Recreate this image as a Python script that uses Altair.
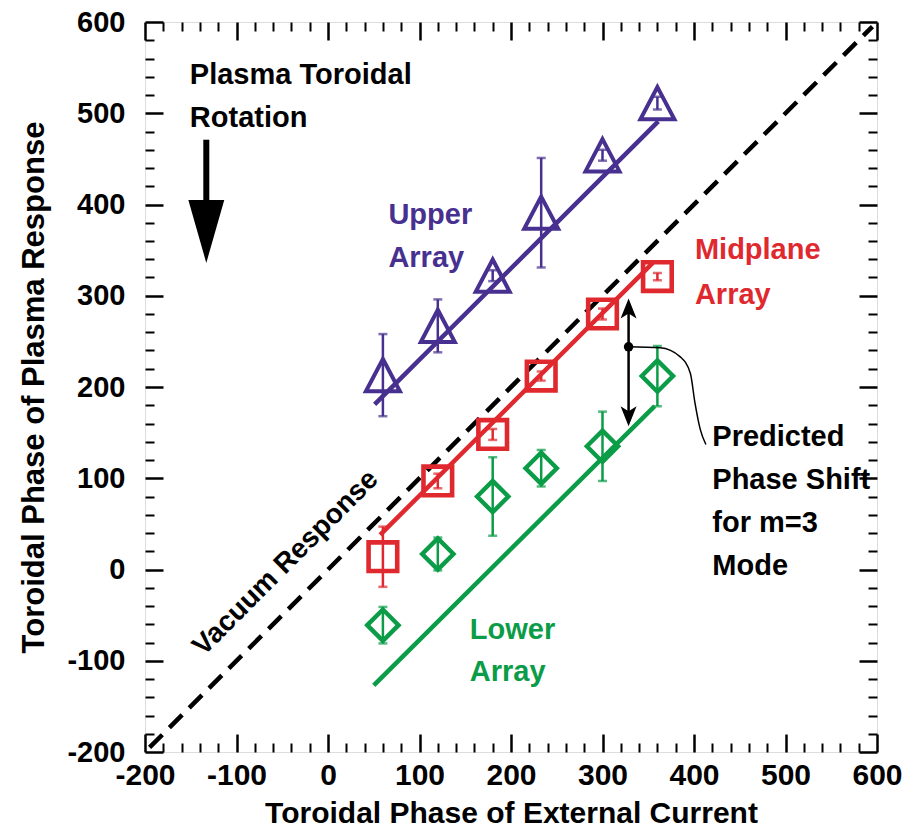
import altair as alt
import pandas as pd

# Toroidal phase of the applied external current (deg)
ext_phase = [60, 120, 180, 233, 300, 360]

# Measured plasma response phase and error half-widths for each sensor array (deg)
upper_phase = [213, 267, 322, 391, 454, 511]
upper_err = [45, 29, 6, 60, 6, 7]
mid_phase = [14, 97, 148, 212, 280, 321]
mid_err = [33, 8, 6, 5, 6, 4]
lower_phase = [-61, 17, 80, 111, 135, 212]
lower_err = [20, 18, 43, 20, 38, 33]

# Straight-line fits: end points (x, y) of each line
fit_names = ["Upper", "Midplane", "Lower"]
fit_x0 = [51, 57, 50]
fit_x1 = [361, 355, 357]
fit_y0 = [181, 38, -127]
fit_y1 = [491, 336, 179]

# Vacuum response (plasma phase equals coil phase)
vacuum_x = [-195, 595]
vacuum_y = [-195, 595]

# Text annotations
note_text = ["Plasma Toroidal", "Rotation", "Upper", "Array", "Midplane", "Array",
             "Lower", "Array", "Predicted", "Phase Shift", "for m=3", "Mode"]
note_x = [-151, -151, 66, 66, 401, 401, 155, 155, 420, 420, 420, 420]
note_y = [542, 495, 388, 341, 350, 301, -66, -112, 145, 98, 51, 4]
note_group = ["Note", "Note", "Upper", "Upper", "Midplane", "Midplane",
              "Lower", "Lower", "Note", "Note", "Note", "Note"]
vac_label = "Vacuum Response"
vac_label_x = -46
vac_label_y = 7

# Rotation-direction arrow
rot_x = -133
rot_shaft_y = [471, 380]
rot_tip_y = 336

# Predicted m=3 shift: double arrow, dot and leader curve
shift_x = 328.5
shift_top = 297
shift_bottom = 157
shift_dot_y = 244
leader_x = [328, 363, 385, 396, 401, 407, 413]
leader_y = [244, 243, 233, 215, 183, 153, 137]

FONT = "Liberation Sans"
groups = ["Upper", "Midplane", "Lower", "Note"]
palette = ["#47308f", "#e0292f", "#0b9c48", "#000000"]
color = alt.Color("group:N", scale=alt.Scale(domain=groups, range=palette), legend=None)

XS = alt.Scale(domain=[-200, 600], nice=False, zero=False)
YS = alt.Scale(domain=[-200, 600], nice=False, zero=False)
major = list(range(-200, 601, 100))
minor = [v for v in range(-200, 601, 20) if v % 100]

pts = pd.DataFrame({
    "x": ext_phase * 3,
    "y": upper_phase + mid_phase + lower_phase,
    "err": upper_err + mid_err + lower_err,
    "group": ["Upper"] * 6 + ["Midplane"] * 6 + ["Lower"] * 6,
})
pts["lo"] = pts["y"] - pts["err"]
pts["hi"] = pts["y"] + pts["err"]

fits = pd.DataFrame({
    "x": fit_x0 + fit_x1,
    "y": fit_y0 + fit_y1,
    "group": fit_names * 2,
})
vac = pd.DataFrame({"x": vacuum_x, "y": vacuum_y})
notes = pd.DataFrame({"x": note_x, "y": note_y, "text": note_text, "group": note_group})


def xq(axis=None, field="x"):
    return alt.X(f"{field}:Q", scale=XS, axis=axis)


def yq(axis=None, field="y"):
    return alt.Y(f"{field}:Q", scale=YS, axis=axis)


# ---- axes: labelled axes plus inward major / minor ticks on all four sides
def tick_axis(orient, values, size, width):
    return alt.Axis(orient=orient, values=values, tickSize=size, offset=-size,
                    labels=False, domain=False, grid=False, title=None,
                    tickColor="black", tickWidth=width)


# plain hyphen for negative numbers
plain_label = "'' + datum.value"

x_lab = alt.Axis(orient="bottom", values=major, ticks=False, domain=False, grid=False,
                 labelFont=FONT, labelFontSize=30, labelFontWeight="bold",
                 labelColor="black", labelPadding=8, labelExpr=plain_label,
                 labelOverlap=False, labelFlush=False,
                 title="Toroidal Phase of External Current", titleFont=FONT,
                 titleFontSize=30, titleFontWeight="bold", titleColor="black",
                 titlePadding=8)
y_lab = alt.Axis(orient="left", values=major, ticks=False, domain=False, grid=False,
                 labelFont=FONT, labelFontSize=29, labelFontWeight="bold",
                 labelColor="black", labelPadding=20, labelExpr=plain_label,
                 labelOverlap=False, labelFlush=False,
                 title="Toroidal Phase of Plasma Response", titleFont=FONT,
                 titleFontSize=31, titleFontWeight="bold", titleColor="black",
                 titlePadding=16)

axis_pairs = [
    (x_lab, y_lab),
    (tick_axis("bottom", major, 18, 2.5), tick_axis("left", major, 18, 2.5)),
    (tick_axis("bottom", minor, 9, 2), tick_axis("left", minor, 9, 2)),
    (tick_axis("top", major, 18, 2.5), tick_axis("right", major, 18, 2.5)),
    (tick_axis("top", minor, 9, 2), tick_axis("right", minor, 9, 2)),
]
axis_layers = [
    alt.Chart(vac).mark_point(opacity=0).encode(x=xq(ax), y=yq(ay))
    for ax, ay in axis_pairs
]

# ---- data layers
vacuum = alt.Chart(vac).mark_line(color="black", strokeWidth=4.5, strokeDash=[18, 10]).encode(
    x=xq(), y=yq())

fit_lines = alt.Chart(fits).mark_line(strokeWidth=4.5).encode(
    x=xq(), y=yq(), color=color, detail="group:N")

err_rules = alt.Chart(pts).mark_rule(strokeWidth=2.5).encode(
    x=xq(), y=yq(field="lo"), y2="hi:Q", color=color)
err_lo = alt.Chart(pts).mark_tick(orient="horizontal", size=9, thickness=2.5).encode(
    x=xq(), y=yq(field="lo"), color=color)
err_hi = alt.Chart(pts).mark_tick(orient="horizontal", size=9, thickness=2.5).encode(
    x=xq(), y=yq(field="hi"), color=color)

upper_pts = alt.Chart(pts[pts.group == "Upper"]).mark_point(
    shape="M0,-0.95L1,0.95L-1,0.95Z", filled=False, size=1156, strokeWidth=4, opacity=1
).encode(x=xq(), y=yq(), color=color)
mid_pts = alt.Chart(pts[pts.group == "Midplane"]).mark_point(
    shape="square", filled=False, size=820, strokeWidth=4.6, opacity=1
).encode(x=xq(), y=yq(), color=color)
low_pts = alt.Chart(pts[pts.group == "Lower"]).mark_point(
    shape="diamond", filled=False, size=980, strokeWidth=4.4, opacity=1
).encode(x=xq(), y=yq(), color=color)

note_marks = alt.Chart(notes).mark_text(
    align="left", baseline="middle", font=FONT, fontSize=29, fontWeight="bold"
).encode(x=xq(), y=yq(), text="text:N", color=color)

vac_text = alt.Chart(pd.DataFrame({"x": [vac_label_x], "y": [vac_label_y], "text": [vac_label]})).mark_text(
    align="center", baseline="middle", angle=315, font=FONT, fontSize=28,
    fontWeight="bold", color="black"
).encode(x=xq(), y=yq(), text="text:N")

rot = pd.DataFrame({"x": [rot_x, rot_x], "y": rot_shaft_y})
rot_shaft = alt.Chart(rot).mark_line(color="black", strokeWidth=6, strokeCap="butt").encode(
    x=xq(), y=yq())
rot_head = alt.Chart(pd.DataFrame({"x": [rot_x], "y": [rot_tip_y]})).mark_point(
    shape="M0,0L0.57,-2L-0.57,-2Z", size=3969, filled=True, color="black", opacity=1,
    strokeWidth=0
).encode(x=xq(), y=yq())

shift = pd.DataFrame({"x": [shift_x, shift_x], "y": [shift_top - 10, shift_bottom + 10]})
shift_shaft = alt.Chart(shift).mark_line(color="black", strokeWidth=2.5).encode(x=xq(), y=yq())
shift_up = alt.Chart(pd.DataFrame({"x": [shift_x], "y": [shift_top]})).mark_point(
    shape="M0,0L0.4,1L0,0.75L-0.4,1Z", size=1600, filled=True, color="black", opacity=1,
    strokeWidth=0
).encode(x=xq(), y=yq())
shift_down = alt.Chart(pd.DataFrame({"x": [shift_x], "y": [shift_bottom]})).mark_point(
    shape="M0,0L0.4,-1L0,-0.75L-0.4,-1Z", size=1600, filled=True, color="black", opacity=1,
    strokeWidth=0
).encode(x=xq(), y=yq())
shift_dot = alt.Chart(pd.DataFrame({"x": [shift_x], "y": [shift_dot_y]})).mark_point(
    shape="circle", size=90, filled=True, color="black", opacity=1
).encode(x=xq(), y=yq())
leader = alt.Chart(pd.DataFrame({"x": leader_x, "y": leader_y, "o": range(len(leader_x))})).mark_line(
    color="black", strokeWidth=1.5, interpolate="monotone"
).encode(x=xq(), y=yq(), order="o:Q")

chart = alt.layer(
    *axis_layers,
    vacuum, fit_lines, err_rules, err_lo, err_hi,
    upper_pts, mid_pts, low_pts,
    note_marks, vac_text,
    rot_shaft, rot_head,
    shift_shaft, shift_up, shift_down, shift_dot, leader,
).resolve_axis(
    x="independent", y="independent"
).properties(
    width=732, height=730, autosize="none",
    padding={"left": 145, "top": 22, "right": 35, "bottom": 84},
).configure_view(
    stroke="black", strokeWidth=5
).configure(background="white")

chart.save("out.html", embed_options={"renderer": "svg", "actions": False})
